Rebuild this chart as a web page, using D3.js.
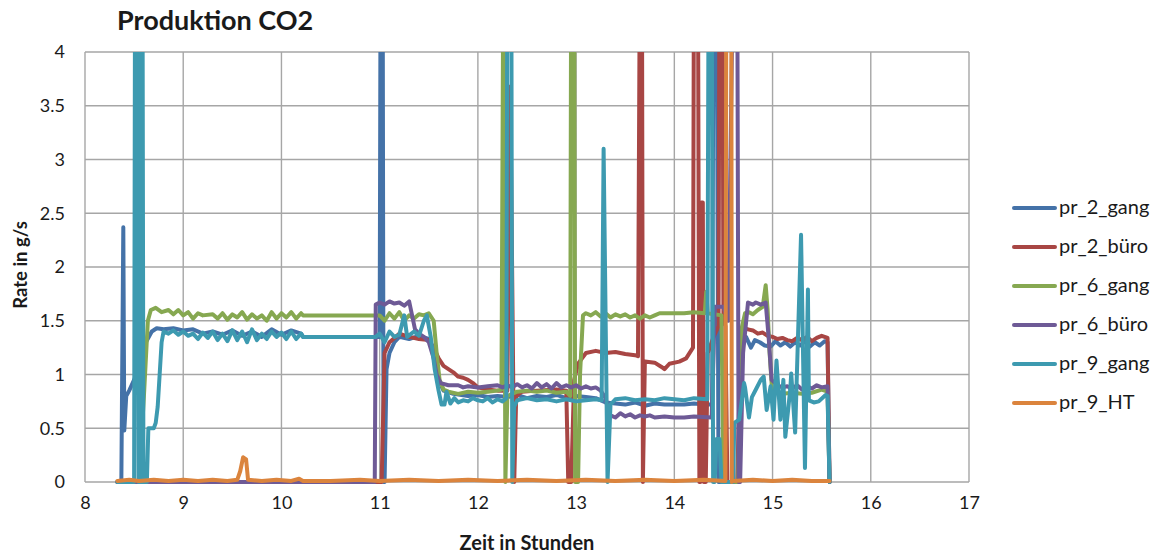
<!DOCTYPE html>
<html>
<head>
<meta charset="utf-8">
<script src="https://cdn.jsdelivr.net/npm/d3@7"></script>
<style>
  html, body { margin: 0; padding: 0; background: #fff; }
  svg { display: block; }
  text { font-family: Lato, "Open Sans", sans-serif; fill: #1a1a1a; }
</style>
</head>
<body>
<svg id="chart" width="1160" height="554"></svg>
<script>
// ---------- data ----------
const title = "Produktion CO2";
const xLabel = "Zeit in Stunden";
const yLabel = "Rate in g/s";
const xTicks = [8, 9, 10, 11, 12, 13, 14, 15, 16, 17];
const yTicks = [0, 0.5, 1, 1.5, 2, 2.5, 3, 3.5, 4];
const seriesNames = ["pr_2_gang", "pr_2_büro", "pr_6_gang", "pr_6_büro", "pr_9_gang", "pr_9_HT"];
const seriesColors = ["#4472A8", "#A84644", "#86A851", "#6E5A96", "#3D9AB0", "#DB843D"];

// [hour, rate g/s]
const pr2Gang = [[8.33,0],[8.37,0],[8.39,2.37],[8.40,0.48],[8.42,0.8],[8.45,0.85],[8.5,0.95],[8.56,1.1],[8.62,1.3],[8.68,1.4],[8.73,1.43],[8.8,1.42],[8.9,1.43],[9.0,1.41],[9.1,1.42],[9.2,1.38],[9.3,1.40],[9.4,1.37],[9.5,1.41],[9.6,1.36],[9.7,1.40],[9.8,1.35],[9.9,1.42],[10.0,1.37],[10.1,1.41],[10.2,1.38],[10.22,1.35],[10.98,1.35],[11.0,1.35],[11.01,5],[11.03,5],[11.04,0],[11.05,0],[11.07,1.05],[11.1,1.2],[11.15,1.3],[11.2,1.35],[11.3,1.33],[11.4,1.36],[11.5,1.33],[11.55,1.2],[11.6,0.95],[11.65,0.85],[11.75,0.82],[11.9,0.8],[12.0,0.81],[12.1,0.79],[12.2,0.8],[12.3,0.79],[12.4,0.81],[12.5,0.78],[12.6,0.8],[12.7,0.79],[12.8,0.81],[12.9,0.78],[13.0,0.8],[13.1,0.79],[13.2,0.78],[13.3,0.74],[13.4,0.73],[13.5,0.72],[13.6,0.74],[13.7,0.71],[13.8,0.73],[13.9,0.72],[14.0,0.72],[14.1,0.72],[14.2,0.73],[14.3,0.72],[14.385,0.72],[14.40,5],[14.43,5],[14.45,0],[14.66,0],[14.68,1.23],[14.73,1.35],[14.78,1.25],[14.82,1.32],[14.87,1.3],[14.92,1.27],[14.98,1.26],[15.03,1.31],[15.08,1.27],[15.13,1.3],[15.18,1.26],[15.23,1.3],[15.28,1.27],[15.33,1.31],[15.38,1.26],[15.43,1.3],[15.48,1.27],[15.53,1.31],[15.56,1.3],[15.58,0]];

const pr2Buero = [[8.33,0],[11.02,0],[11.05,1.2],[11.1,1.3],[11.2,1.38],[11.3,1.35],[11.4,1.33],[11.5,1.32],[11.55,1.25],[11.6,1.15],[11.65,1.08],[11.7,1.05],[11.75,1.02],[11.8,0.98],[11.85,0.97],[11.9,0.95],[11.95,0.92],[12.0,0.88],[12.1,0.86],[12.2,0.85],[12.3,0.85],[12.33,3.68],[12.37,0],[12.39,0.8],[12.45,0.84],[12.6,0.85],[12.8,0.86],[12.9,0.85],[12.92,0],[12.95,0],[12.98,0.95],[13.02,1.1],[13.06,1.15],[13.1,1.2],[13.2,1.22],[13.3,1.2],[13.4,1.21],[13.5,1.19],[13.6,1.18],[13.63,1.17],[13.65,5],[13.67,5],[13.68,0],[13.70,1.12],[13.8,1.11],[13.87,1.07],[13.9,1.05],[13.95,1.1],[14.05,1.12],[14.12,1.15],[14.19,1.25],[14.20,5],[14.24,5],[14.255,0],[14.265,0],[14.275,2.6],[14.29,2.6],[14.30,0],[14.32,0],[14.34,1.2],[14.40,1.35],[14.45,1.45],[14.46,5],[14.49,5],[14.50,1.5],[14.52,1.45],[14.54,0],[14.64,0],[14.68,1.43],[14.75,1.42],[14.8,1.41],[14.85,1.38],[14.9,1.39],[14.95,1.36],[15.0,1.35],[15.05,1.33],[15.1,1.34],[15.15,1.32],[15.2,1.31],[15.25,1.34],[15.3,1.32],[15.35,1.35],[15.4,1.31],[15.45,1.34],[15.5,1.36],[15.56,1.34],[15.58,0]];

const pr6Gang = [[8.33,0],[8.55,0],[8.6,0.8],[8.64,1.5],[8.67,1.6],[8.72,1.62],[8.78,1.58],[8.85,1.6],[8.9,1.56],[8.95,1.6],[9.0,1.55],[9.05,1.58],[9.1,1.52],[9.15,1.57],[9.2,1.55],[9.3,1.56],[9.35,1.52],[9.4,1.57],[9.45,1.51],[9.5,1.56],[9.55,1.53],[9.6,1.58],[9.65,1.51],[9.7,1.56],[9.75,1.52],[9.8,1.55],[9.85,1.5],[9.9,1.58],[9.95,1.52],[10.0,1.57],[10.05,1.53],[10.1,1.58],[10.15,1.52],[10.2,1.57],[10.22,1.55],[10.97,1.55],[11.0,1.55],[11.05,1.5],[11.1,1.57],[11.15,1.52],[11.2,1.58],[11.25,1.5],[11.3,1.55],[11.35,1.52],[11.4,1.56],[11.45,1.55],[11.5,1.57],[11.55,1.5],[11.58,1.2],[11.61,0.95],[11.65,0.86],[11.7,0.84],[11.8,0.82],[11.9,0.84],[12.0,0.83],[12.1,0.84],[12.2,0.85],[12.24,0.86],[12.26,5],[12.28,0],[12.30,0.8],[12.4,0.84],[12.5,0.85],[12.6,0.84],[12.7,0.85],[12.8,0.83],[12.9,0.84],[12.94,0.8],[12.95,5],[12.98,5],[12.99,0],[13.02,0],[13.04,1.0],[13.07,1.55],[13.1,1.57],[13.15,1.55],[13.2,1.58],[13.25,1.54],[13.3,1.57],[13.35,1.53],[13.4,1.56],[13.45,1.54],[13.5,1.56],[13.55,1.53],[13.6,1.55],[13.65,1.52],[13.7,1.55],[13.75,1.53],[13.8,1.55],[13.85,1.57],[13.9,1.57],[14.0,1.57],[14.1,1.57],[14.2,1.58],[14.31,1.57],[14.325,1.77],[14.34,1.57],[14.48,1.55],[14.50,0],[14.65,0],[14.67,1.0],[14.69,1.45],[14.72,1.57],[14.76,1.58],[14.8,1.56],[14.85,1.6],[14.9,1.63],[14.93,1.83],[14.95,1.6],[14.97,1.2],[14.995,0.86],[15.05,0.84],[15.1,0.82],[15.2,0.83],[15.3,0.82],[15.4,0.83],[15.5,0.86],[15.56,0.84],[15.58,0]];

const pr6Buero = [[8.33,0],[10.95,0],[10.96,1.65],[11.0,1.67],[11.05,1.65],[11.1,1.68],[11.15,1.66],[11.2,1.67],[11.25,1.64],[11.3,1.68],[11.33,1.55],[11.36,1.42],[11.4,1.38],[11.45,1.35],[11.5,1.3],[11.55,1.15],[11.58,1.0],[11.62,0.92],[11.7,0.9],[11.8,0.9],[11.85,0.88],[11.9,0.89],[12.0,0.88],[12.1,0.89],[12.2,0.9],[12.25,0.88],[12.3,0.9],[12.35,0.88],[12.4,0.91],[12.45,0.88],[12.5,0.9],[12.55,0.87],[12.6,0.92],[12.65,0.88],[12.7,0.91],[12.75,0.87],[12.8,0.92],[12.85,0.88],[12.9,0.9],[12.95,0.88],[13.0,0.9],[13.05,0.87],[13.1,0.89],[13.15,0.87],[13.2,0.88],[13.25,0.85],[13.3,0.78],[13.33,0.65],[13.35,0.62],[13.4,0.6],[13.45,0.64],[13.5,0.61],[13.55,0.63],[13.6,0.6],[13.65,0.62],[13.7,0.61],[13.75,0.62],[13.8,0.6],[13.9,0.61],[14.0,0.6],[14.1,0.6],[14.2,0.61],[14.38,0.6],[14.40,1.2],[14.41,1.63],[14.5,1.63],[14.55,1.5],[14.60,5],[14.64,5],[14.655,0],[14.67,0],[14.70,1.2],[14.75,1.67],[14.8,1.65],[14.83,1.67],[14.88,1.65],[14.93,1.67],[14.96,1.35],[14.99,0.95],[15.05,0.9],[15.1,0.88],[15.15,0.89],[15.2,0.87],[15.25,0.9],[15.3,0.86],[15.35,0.89],[15.4,0.87],[15.45,0.9],[15.5,0.88],[15.56,0.89],[15.58,0]];

const pr9Gang = [[8.33,0],[8.50,0],[8.51,5],[8.53,5],[8.545,0],[8.565,0],[8.575,5],[8.585,5],[8.595,0],[8.63,0],[8.645,0.5],[8.70,0.5],[8.72,0.55],[8.74,0.7],[8.76,1.0],[8.78,1.3],[8.8,1.4],[8.85,1.38],[8.9,1.41],[8.95,1.37],[9.0,1.4],[9.05,1.36],[9.1,1.38],[9.15,1.33],[9.2,1.39],[9.25,1.34],[9.3,1.4],[9.35,1.32],[9.4,1.38],[9.45,1.31],[9.5,1.41],[9.55,1.32],[9.6,1.4],[9.65,1.3],[9.7,1.42],[9.75,1.32],[9.8,1.38],[9.85,1.33],[9.9,1.4],[9.95,1.35],[10.0,1.39],[10.05,1.33],[10.1,1.4],[10.15,1.33],[10.2,1.38],[10.22,1.35],[10.96,1.35],[11.0,1.38],[11.05,1.3],[11.1,1.4],[11.15,1.35],[11.2,1.37],[11.25,1.55],[11.28,1.35],[11.35,1.4],[11.4,1.36],[11.45,1.5],[11.48,1.55],[11.52,1.35],[11.56,1.05],[11.6,0.85],[11.63,0.72],[11.66,0.72],[11.68,0.84],[11.72,0.73],[11.76,0.78],[11.8,0.74],[11.85,0.76],[11.9,0.75],[11.95,0.78],[12.0,0.76],[12.05,0.75],[12.1,0.78],[12.15,0.74],[12.2,0.77],[12.25,0.75],[12.29,0.78],[12.30,5],[12.34,5],[12.35,0],[12.37,0.7],[12.4,0.76],[12.5,0.78],[12.6,0.76],[12.7,0.77],[12.8,0.75],[12.9,0.77],[13.0,0.75],[13.1,0.76],[13.2,0.77],[13.26,0.76],[13.28,3.1],[13.32,0],[13.35,0.72],[13.4,0.77],[13.5,0.78],[13.6,0.76],[13.7,0.77],[13.8,0.76],[13.9,0.78],[14.0,0.77],[14.1,0.76],[14.2,0.78],[14.335,0.77],[14.35,5],[14.38,5],[14.395,0],[14.41,0],[14.43,0.4],[14.46,0.4],[14.48,0],[14.60,0],[14.61,0.55],[14.66,0.58],[14.71,0.92],[14.72,0.88],[14.76,0.6],[14.79,0.79],[14.83,0.86],[14.88,0.95],[14.91,0.98],[14.94,0.67],[14.98,0.89],[15.01,0.58],[15.04,1.13],[15.08,0.58],[15.11,0.95],[15.13,0.42],[15.18,0.86],[15.19,1.01],[15.23,0.46],[15.29,2.30],[15.33,0.13],[15.36,1.79],[15.37,0.76],[15.42,0.74],[15.47,0.75],[15.54,0.81],[15.56,0.8],[15.58,0]];

const pr9HT = [[8.33,0.01],[8.45,0.02],[8.55,0.01],[8.7,0.02],[8.85,0.01],[9.0,0.02],[9.15,0.01],[9.3,0.02],[9.45,0.01],[9.55,0.02],[9.58,0.1],[9.61,0.23],[9.64,0.21],[9.66,0.02],[9.8,0.01],[9.95,0.02],[10.1,0.01],[10.18,0.03],[10.22,0.01],[10.5,0.01],[10.8,0.02],[11.0,0.01],[11.3,0.02],[11.6,0.01],[11.9,0.02],[12.2,0.01],[12.5,0.02],[12.8,0.01],[13.1,0.02],[13.4,0.01],[13.7,0.02],[14.0,0.01],[14.3,0.02],[14.52,0.01],[14.53,5],[14.58,5],[14.585,0],[14.6,0.01],[14.8,0.02],[15.0,0.01],[15.2,0.02],[15.4,0.01],[15.58,0.01]];

const seriesData = [pr2Gang, pr2Buero, pr6Gang, pr6Buero, pr9Gang, pr9HT];

// ---------- layout ----------
const svg = d3.select("#chart");
const plotL = 85, plotR = 969, plotT = 52, plotB = 482;
const x = d3.scaleLinear().domain([8, 17]).range([plotL, plotR]);
const y = d3.scaleLinear().domain([0, 4]).range([plotB, plotT]);
const gridColor = "#a6a6a6";

// grid
svg.append("g").selectAll("line").data(yTicks).join("line")
  .attr("x1", plotL).attr("x2", plotR)
  .attr("y1", d => y(d)).attr("y2", d => y(d))
  .attr("stroke", gridColor).attr("stroke-width", 1.4);
svg.append("g").selectAll("line").data(xTicks).join("line")
  .attr("x1", d => x(d)).attr("x2", d => x(d))
  .attr("y1", plotT).attr("y2", plotB)
  .attr("stroke", gridColor).attr("stroke-width", 1.4);

// axes labels via d3 axes
const yAxis = svg.append("g").attr("transform", `translate(${plotL},0)`)
  .call(d3.axisLeft(y).tickValues(yTicks).tickFormat(d3.format("")).tickSize(0).tickPadding(20));
yAxis.select(".domain").remove();
yAxis.selectAll("text").style("font-size", "18px").attr("fill", "#1a1a1a");

const xAxis = svg.append("g").attr("transform", `translate(0,${plotB})`)
  .call(d3.axisBottom(x).tickValues(xTicks).tickFormat(d3.format("")).tickSize(0).tickPadding(14));
xAxis.select(".domain").remove();
xAxis.selectAll("text").style("font-size", "18px").attr("fill", "#1a1a1a");

// clip
svg.append("clipPath").attr("id", "plotClip").append("rect")
  .attr("x", plotL).attr("y", plotT).attr("width", plotR - plotL).attr("height", plotB - plotT + 10);

const line = d3.line().x(d => x(d[0])).y(d => y(d[1]));
const lines = svg.append("g").attr("clip-path", "url(#plotClip)");
seriesData.forEach((s, i) => {
  lines.append("path").datum(s)
    .attr("d", line)
    .attr("fill", "none")
    .attr("stroke", seriesColors[i])
    .attr("stroke-width", 4)
    .attr("stroke-linejoin", "round")
    .attr("stroke-linecap", "round");
});

// title
svg.append("text").attr("x", 117).attr("y", 30)
  .style("font-size", "27px").style("font-weight", "bold").text(title);

// axis titles
svg.append("text").attr("x", 527).attr("y", 550)
  .attr("text-anchor", "middle").style("font-size", "20px").style("font-weight", "bold").text(xLabel);
svg.append("text").attr("transform", "translate(27,265) rotate(-90)")
  .attr("text-anchor", "middle").style("font-size", "18.5px").style("font-weight", "bold").text(yLabel);

// legend
const lg = svg.append("g");
seriesNames.forEach((n, i) => {
  const ly = 208 + i * 39;
  lg.append("line").attr("x1", 1014).attr("x2", 1055).attr("y1", ly).attr("y2", ly)
    .attr("stroke", seriesColors[i]).attr("stroke-width", 4).attr("stroke-linecap", "round");
  lg.append("text").attr("x", 1059).attr("y", ly + 6).style("font-size", "20px").text(n);
});
</script>
</body>
</html>
